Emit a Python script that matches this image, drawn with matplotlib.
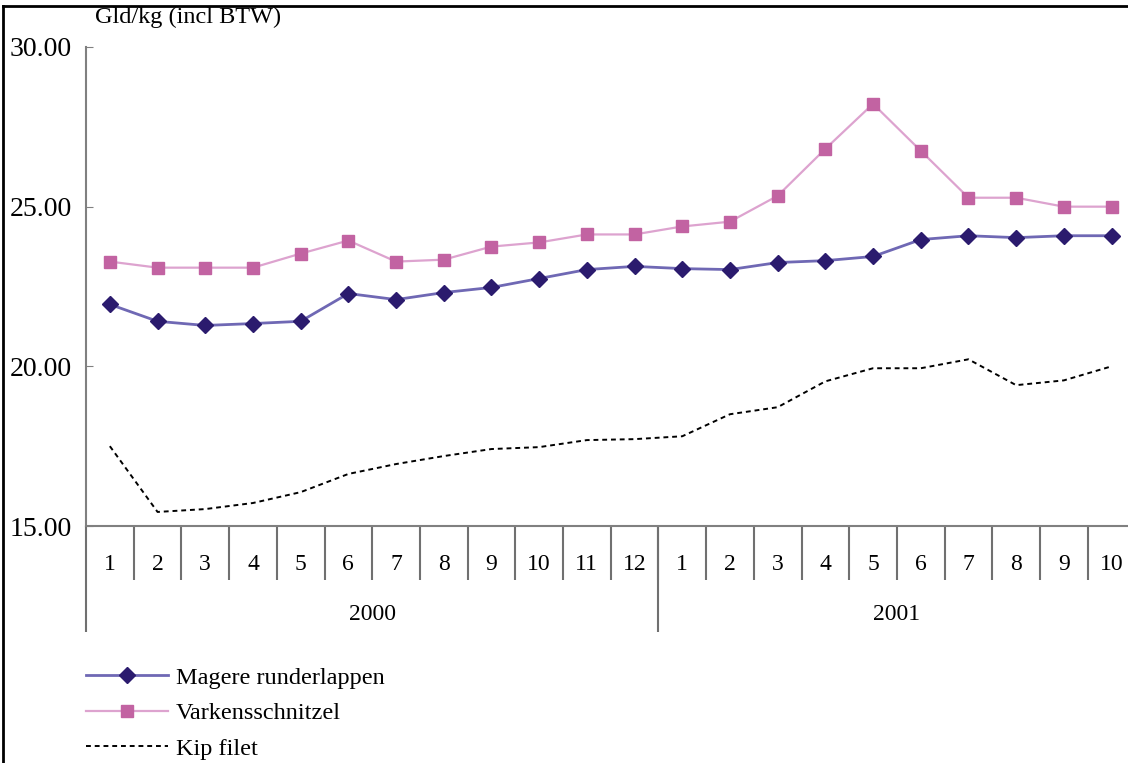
import matplotlib
matplotlib.use("Agg")
import matplotlib.pyplot as plt
import numpy as np

plt.rcParams["font.family"] = ["Liberation Serif", "DejaVu Serif"]

# months (2000: 1-12, 2001: 1-10)
months = [str(m) for m in range(1, 13)] + [str(m) for m in range(1, 11)]
years = ["2000", "2001"]
year_len = [12, 10]

# prices, Gld/kg incl BTW
magere = [21.94, 21.41, 21.28, 21.34, 21.41, 22.28, 22.09, 22.31, 22.47, 22.75, 23.03,
          23.13, 23.06, 23.03, 23.25, 23.31, 23.44, 23.97, 24.09, 24.03, 24.09, 24.09]
varkens = [23.28, 23.09, 23.09, 23.09, 23.53, 23.94, 23.28, 23.34, 23.75, 23.88, 24.13,
           24.13, 24.38, 24.53, 25.34, 26.81, 28.22, 26.75, 25.28, 25.28, 25.00, 25.00]
kip = [17.50, 15.44, 15.53, 15.72, 16.06, 16.63, 16.94, 17.19, 17.41, 17.47, 17.69,
       17.72, 17.81, 18.50, 18.72, 19.53, 19.94, 19.94, 20.22, 19.41, 19.56, 20.00]

W, H = 1128, 763
fig = plt.figure(figsize=(W / 100, H / 100), dpi=100)
x0, x1, ytop, ybot = 86, 86 + 22 * 47.7, 47, 526
ax = fig.add_axes([x0 / W, 1 - ybot / H, (x1 - x0) / W, (ybot - ytop) / H])

x = np.arange(len(months))
l1, = ax.plot(x, magere, color="#6f68b4", lw=2, marker="D", ms=8,
              mfc="#2b1b6e", mec="#2b1b6e", label="Magere runderlappen")
l2, = ax.plot(x, varkens, color="#dda3cf", lw=1.6, marker="s", ms=8,
              mfc="#c263a2", mec="#c263a2", label="Varkensschnitzel")
l3, = ax.plot(x, kip, color="black", lw=1.4, ls=(0, (2.5, 2)), label="Kip filet")

ax.set_xlim(-0.5, len(months) - 0.5)
ax.set_ylim(15, 30)
ax.set_yticks([15, 20, 25, 30])
ax.set_yticklabels(["15.00", "20.00", "25.00", "30.00"], fontsize=20)
ax.tick_params(axis="y", direction="in", length=5, color="#808080", pad=10)
ax.set_xticks([])
for s in ["top", "right"]:
    ax.spines[s].set_visible(False)
for s in ["left", "bottom"]:
    ax.spines[s].set_color("#808080")
    ax.spines[s].set_linewidth(1.5)

# category axis: month separators, month labels, year groups
tr = ax.get_xaxis_transform()
ah = ybot - ytop
ax.vlines(x[:-1] + 0.5, -54 / ah, 0, transform=tr, color="#707070", lw=1.5, clip_on=False)
for i, m in enumerate(months):
    ax.text(i, -39 / ah, m, transform=tr, ha="center", va="center", fontsize=17)
edges = np.concatenate([[0], np.cumsum(year_len)]) - 0.5
ax.vlines(edges, -106 / ah, 0, transform=tr, color="#707070", lw=1.5, clip_on=False)
for k, yr in enumerate(years):
    ax.text((edges[k] + edges[k + 1]) / 2, -89 / ah, yr, transform=tr,
            ha="center", va="center", fontsize=17)

fig.text(95 / W, 1 - 17 / H, "Gld/kg (incl BTW)", fontsize=17.5, va="center", ha="left")

fig.legend(handles=[l1, l2, l3], loc="upper left", bbox_to_anchor=(76 / W, 1 - 657 / H),
           frameon=False, fontsize=17.5, handlelength=3.4, handletextpad=0.3,
           labelspacing=0.56, borderaxespad=0)

# outer frame of the original picture
fig.add_artist(plt.Line2D([3 / W, 3 / W], [0, 1 - 6 / H], color="black", lw=2))
fig.add_artist(plt.Line2D([3 / W, 1], [1 - 6 / H, 1 - 6 / H], color="black", lw=2))

fig.savefig("out.png", dpi=100)
